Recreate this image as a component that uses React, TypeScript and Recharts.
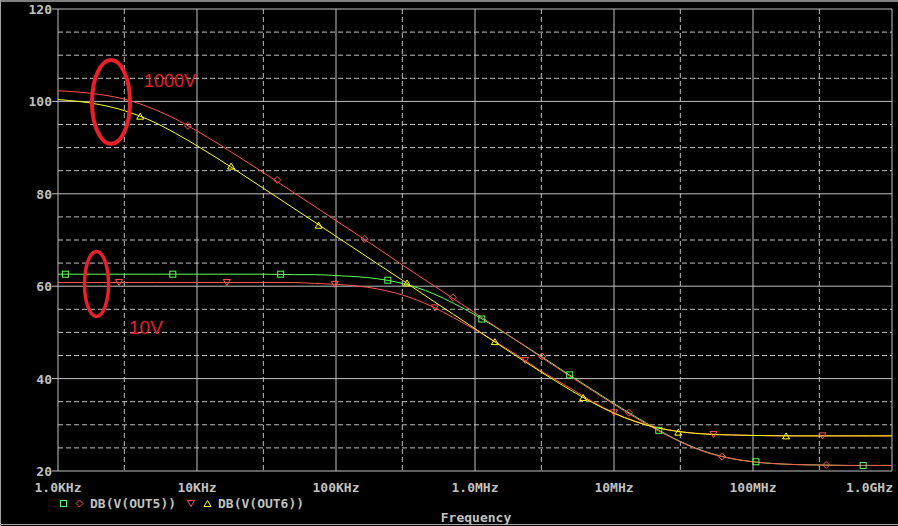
import React from 'react';
import { ComposedChart, Line, Scatter, XAxis, YAxis, CartesianGrid } from 'recharts';

// Frequency sample points (Hz)
const FREQ = [1e3, 2e3, 3e3, 5e3, 7e3, 1e4, 2e4, 3e4, 5e4, 7e4, 1e5, 2e5, 3e5, 5e5, 7e5, 1e6, 2e6, 3e6, 5e6, 7e6, 1e7, 2e7, 3e7, 5e7, 7e7, 1e8, 2e8, 3e8, 5e8, 7e8, 1e9];

// DB(V(OUT5)) traces
const OUT5_10V = [62.6, 62.6, 62.6, 62.6, 62.6, 62.6, 62.6, 62.6, 62.5, 62.5, 62.3, 61.6, 60.6, 58.4, 56.3, 53.8, 48.2, 44.8, 40.4, 37.6, 34.6, 29.2, 26.4, 23.8, 22.7, 22.0, 21.4, 21.3, 21.2, 21.2, 21.2];
const OUT5_1000V = [102.3, 101.5, 100.5, 98.2, 96.2, 93.6, 88.0, 84.6, 80.2, 77.3, 74.2, 68.2, 64.6, 60.2, 57.3, 54.2, 48.2, 44.6, 40.2, 37.4, 34.4, 29.0, 26.3, 23.7, 22.7, 22.0, 21.4, 21.3, 21.2, 21.2, 21.2];
// DB(V(OUT6)) traces
const OUT6_10V = [60.8, 60.8, 60.8, 60.8, 60.8, 60.8, 60.8, 60.8, 60.8, 60.6, 60.4, 59.4, 58.1, 55.5, 53.2, 50.6, 45.1, 41.6, 37.7, 35.0, 32.6, 29.5, 28.5, 28.0, 27.8, 27.7, 27.6, 27.6, 27.6, 27.6, 27.6];
const OUT6_1000V = [100.4, 99.3, 98.0, 95.4, 93.1, 90.4, 84.7, 81.2, 76.8, 73.9, 70.8, 64.8, 61.3, 56.8, 53.9, 50.8, 44.8, 41.4, 37.3, 34.8, 32.5, 29.4, 28.5, 27.9, 27.8, 27.7, 27.6, 27.6, 27.6, 27.6, 27.6];

// Trace symbol markers
const MK5_10V_F = [1130, 6700, 40000, 236000, 1120000, 4800000, 21000000, 105000000, 620000000];
const MK5_10V_DB = [62.6, 62.6, 62.6, 61.3, 52.9, 40.8, 28.8, 22.0, 21.2];
const MK5_1000V_F = [8600, 37700, 161000, 693000, 3030000, 12800000, 60000000, 336000000];
const MK5_1000V_DB = [94.7, 83.0, 70.2, 57.6, 44.8, 32.6, 23.1, 21.3];
const MK6_10V_F = [2750, 16400, 98000, 515000, 2290000, 10000000, 52000000, 316000000];
const MK6_10V_DB = [60.8, 60.8, 60.4, 55.3, 43.9, 32.6, 27.9, 27.6];
const MK6_1000V_F = [3900, 17600, 75000, 324000, 1390000, 6000000, 29000000, 173000000];
const MK6_1000V_DB = [96.8, 86.0, 73.2, 60.7, 48.0, 35.9, 28.4, 27.6];

// Axes
const X_TICKS = [1e3, 1e4, 1e5, 1e6, 1e7, 1e8, 1e9];
const X_LABELS = ['1.0KHz', '10KHz', '100KHz', '1.0MHz', '10MHz', '100MHz', '1.0GHz'];
const X_MINOR = [3e3, 3e4, 3e5, 3e6, 3e7, 3e8];
const Y_TICKS = [20, 40, 60, 80, 100, 120];
const Y_MINOR = [25, 30, 35, 45, 50, 55, 65, 70, 75, 85, 90, 95, 105, 110, 115];

const toData = (vals: number[]) => FREQ.map((f, i) => ({ f, v: vals[i] }));
const toMarks = (fs: number[], vs: number[]) => fs.map((f, i) => ({ f, v: vs[i] }));

const GREEN = '#5cff5c';
const RED = '#ff5454';
const YELLOW = '#ffff20';
const GRAY = '#c0c0c0';
const FONT = '"DejaVu Sans Mono", monospace';

const squareShape = (p: any) => (
  <rect x={p.cx - 3} y={p.cy - 3} width={6} height={6} fill="none" stroke={GREEN} strokeWidth={1} />
);
const diamondShape = (p: any) => (
  <polygon points={`${p.cx},${p.cy - 3.5} ${p.cx + 3.5},${p.cy} ${p.cx},${p.cy + 3.5} ${p.cx - 3.5},${p.cy}`} fill="none" stroke={RED} strokeWidth={1} />
);
const invTriShape = (p: any) => (
  <polygon points={`${p.cx - 3.5},${p.cy - 3} ${p.cx + 3.5},${p.cy - 3} ${p.cx},${p.cy + 3}`} fill="none" stroke={RED} strokeWidth={1} />
);
const triShape = (p: any) => (
  <polygon points={`${p.cx - 3.5},${p.cy + 3} ${p.cx + 3.5},${p.cy + 3} ${p.cx},${p.cy - 3}`} fill="none" stroke={YELLOW} strokeWidth={1} />
);

const XTick = (props: any) => {
  const { x, payload } = props;
  const idx = X_TICKS.indexOf(payload.value);
  const last = idx === X_TICKS.length - 1;
  return (
    <text x={last ? x + 1 : x} y={492} textAnchor={last ? 'end' : 'middle'} fill={GRAY} fontFamily={FONT} fontWeight="bold" fontSize={13}>
      {X_LABELS[idx]}
    </text>
  );
};

const YTick = (props: any) => {
  const { y, payload } = props;
  return (
    <text x={52} y={y + 5} textAnchor="end" fill={GRAY} fontFamily={FONT} fontWeight="bold" fontSize={13}>
      {payload.value}
    </text>
  );
};

export default function App() {
  return (
    <div style={{ position: 'fixed', left: 0, top: 0, width: 898, height: 526, background: '#000', overflow: 'hidden' }}>
      <ComposedChart width={898} height={526} margin={{ top: 9, right: 6, left: 0, bottom: 0 }}>
        <CartesianGrid stroke={GRAY} strokeDasharray="5 3" horizontalValues={Y_MINOR} verticalValues={X_MINOR} />
        <CartesianGrid stroke={GRAY} horizontalValues={Y_TICKS} verticalValues={X_TICKS} />
        <XAxis dataKey="f" type="number" scale="log" domain={[1e3, 1e9]} ticks={X_TICKS} interval={0} tick={<XTick />} tickLine={false} axisLine={false} height={55} allowDataOverflow />
        <YAxis dataKey="v" type="number" domain={[20, 120]} ticks={Y_TICKS} interval={0} tick={<YTick />} tickLine={{ stroke: GRAY }} tickSize={6} axisLine={false} width={58} allowDataOverflow />
        <Line data={toData(OUT5_10V)} dataKey="v" type="monotone" stroke={GREEN} strokeWidth={1} dot={false} isAnimationActive={false} />
        <Line data={toData(OUT6_10V)} dataKey="v" type="monotone" stroke={RED} strokeWidth={1} dot={false} isAnimationActive={false} />
        <Line data={toData(OUT5_1000V)} dataKey="v" type="monotone" stroke={RED} strokeWidth={1} dot={false} isAnimationActive={false} />
        <Line data={toData(OUT6_1000V)} dataKey="v" type="monotone" stroke={YELLOW} strokeWidth={1} dot={false} isAnimationActive={false} />
        <Scatter data={toMarks(MK5_10V_F, MK5_10V_DB)} dataKey="v" shape={squareShape} isAnimationActive={false} />
        <Scatter data={toMarks(MK5_1000V_F, MK5_1000V_DB)} dataKey="v" shape={diamondShape} isAnimationActive={false} />
        <Scatter data={toMarks(MK6_10V_F, MK6_10V_DB)} dataKey="v" shape={invTriShape} isAnimationActive={false} />
        <Scatter data={toMarks(MK6_1000V_F, MK6_1000V_DB)} dataKey="v" shape={triShape} isAnimationActive={false} />
      </ComposedChart>
      <svg width={898} height={526} style={{ position: 'absolute', left: 0, top: 0, pointerEvents: 'none' }}>
        {/* window frame */}
        <line x1={0} y1={1} x2={898} y2={1} stroke="#808080" strokeWidth={2} />
        <line x1={0.5} y1={0} x2={0.5} y2={526} stroke="#a0a0a0" strokeWidth={1} />
        <line x1={0} y1={524.5} x2={898} y2={524.5} stroke="#a0a0a0" strokeWidth={1} />
        {/* annotations */}
        <ellipse cx={111} cy={102} rx={19} ry={42} fill="none" stroke="#e8202a" strokeWidth={4} />
        <text x={144} y={87} fill="#e8202a" fontFamily='"Liberation Sans", Arial, sans-serif' fontSize={18}>1000V</text>
        <ellipse cx={96.5} cy={284} rx={12} ry={32.5} fill="none" stroke="#e8202a" strokeWidth={3.5} />
        <text x={129} y={334} fill="#e8202a" fontFamily='"Liberation Sans", Arial, sans-serif' fontSize={19}>10V</text>
        {/* legend */}
        <rect x={60.5} y={500.5} width={6} height={6} fill="none" stroke={GREEN} />
        <polygon points="79.5,500 83,503.5 79.5,507 76,503.5" fill="none" stroke={RED} />
        <text x={90} y={508} fill={GRAY} fontFamily={FONT} fontWeight="bold" fontSize={13}>DB(V(OUT5))</text>
        <polygon points="187.5,500.5 194.5,500.5 191,506.5" fill="none" stroke={RED} />
        <polygon points="204,506.5 211,506.5 207.5,500.5" fill="none" stroke={YELLOW} />
        <text x={218} y={508} fill={GRAY} fontFamily={FONT} fontWeight="bold" fontSize={13}>DB(V(OUT6))</text>
        <text x={476} y={522} textAnchor="middle" fill={GRAY} fontFamily={FONT} fontWeight="bold" fontSize={13}>Frequency</text>
      </svg>
    </div>
  );
}
